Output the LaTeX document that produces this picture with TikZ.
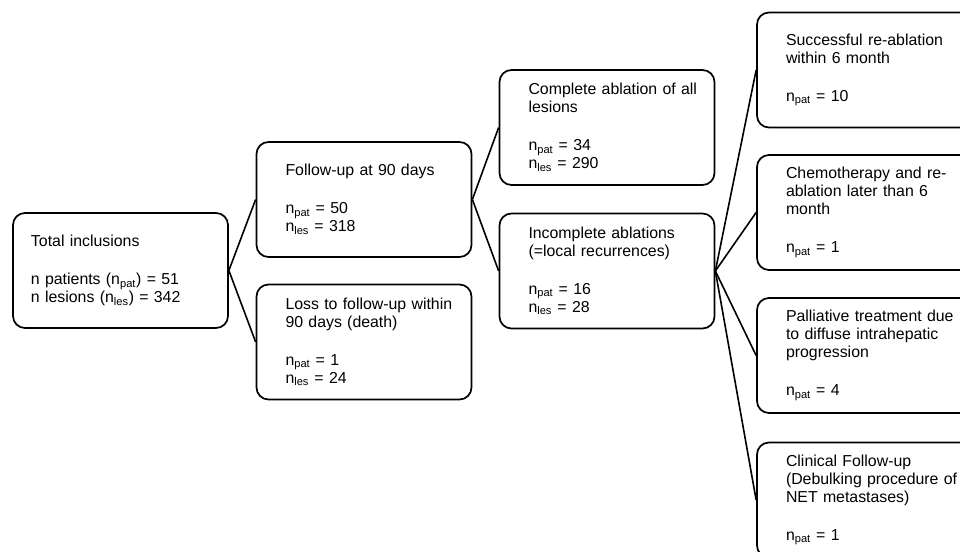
\documentclass[tikz,border=0pt]{standalone}
\usepackage{fontspec}
\setmainfont{Liberation Sans}
\usetikzlibrary{positioning}

\tikzset{
  stagebox/.style={draw, rectangle, rounded corners=9pt, line width=1.3pt,
    minimum width=161.25pt, minimum height=86.25pt, text width=149.25pt,
    inner xsep=6pt, align=left, font=\fontsize{11.9pt}{13.5pt}\selectfont,
    execute at begin node={\leftskip=#1\relax}},
  stagebox/.default=15.75pt,
  branch/.style={line width=1.2pt}
}
\newcommand{\npat}{n\textsubscript{pat}}
\newcommand{\nles}{n\textsubscript{les}}

\begin{document}
\begin{tikzpicture}[x=0.75pt, y=-0.75pt]
  \path[use as bounding box, clip] (0,0) rectangle (960,552);

  \node[stagebox=7.5pt] (total) at (120.5,270.5) {Total inclusions\\[15pt]
    n patients (\npat) = 51\\ n lesions (\nles) = 342};

  \node[stagebox] (followup) at (364,199.5) {Follow-up at 90 days\\[15pt]
    \npat{} = 50\\ \nles{} = 318};
  \node[stagebox] (loss) at (364,342) {Loss to follow-up within\\ 90 days (death)\\[15pt]
    \npat{} = 1\\ \nles{} = 24};

  \node[stagebox] (complete) at (607,127.5) {Complete ablation of all\\ lesions\\[15pt]
    \npat{} = 34\\ \nles{} = 290};
  \node[stagebox] (incomplete) at (607,271) {Incomplete ablations\\ (=local recurrences)\\[15pt]
    \npat{} = 16\\ \nles{} = 28};

  \node[stagebox] (reablation) at (864.5,70) {Successful re-ablation\\ within 6 month\\[15pt]
    \npat{} = 10};
  \node[stagebox] (chemo) at (864.5,212.5) {Chemotherapy and re-\\ ablation later than 6\\ month\\[15pt]
    \npat{} = 1};
  \node[stagebox] (palliative) at (864.5,355.5) {Palliative treatment due\\ to diffuse intrahepatic\\ progression\\[15pt]
    \npat{} = 4};
  \node[stagebox] (clinical) at (864.5,500) {Clinical Follow-up\\ (Debulking procedure of\\ NET metastases)\\[15pt]
    \npat{} = 1};

  \draw[branch] (total.east) -- (followup.west);
  \draw[branch] (total.east) -- (loss.west);
  \draw[branch] (followup.east) -- (complete.west);
  \draw[branch] (followup.east) -- (incomplete.west);
  \draw[branch] (incomplete.east) -- (reablation.west);
  \draw[branch] (incomplete.east) -- (chemo.west);
  \draw[branch] (incomplete.east) -- (palliative.west);
  \draw[branch] (incomplete.east) -- (clinical.west);
\end{tikzpicture}
\end{document}
